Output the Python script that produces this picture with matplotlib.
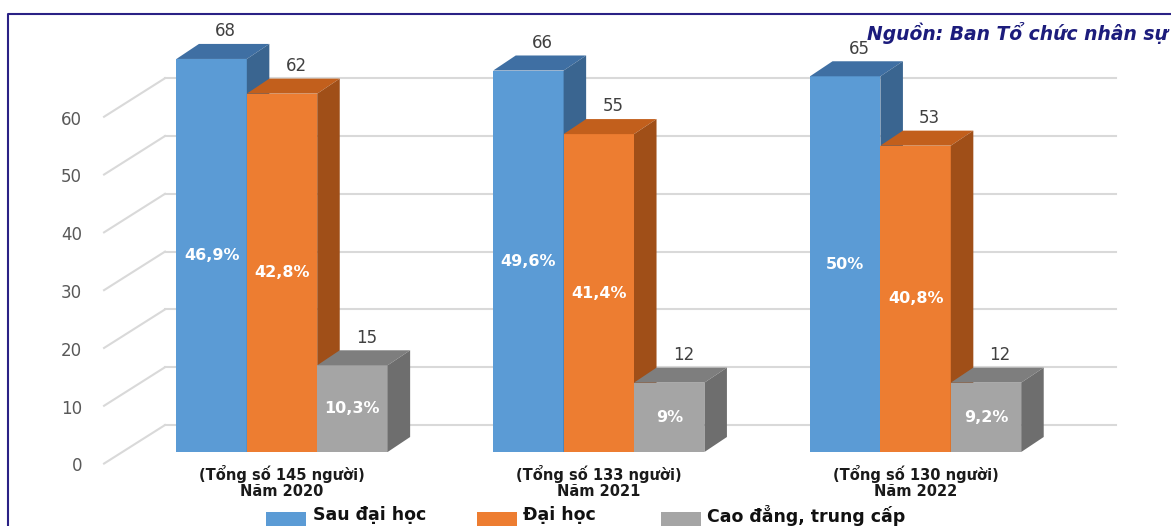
import matplotlib.pyplot as plt
from matplotlib.patches import Polygon, Rectangle
from matplotlib.lines import Line2D

# số lượng theo trình độ, mỗi năm
years = ['2020', '2021', '2022']
totals = [145, 133, 130]
sau_dai_hoc = [68, 66, 65]
dai_hoc = [62, 55, 53]
cao_dang = [15, 12, 12]
series_names = ['Sau đại học', 'Đại học', 'Cao đẳng, trung cấp']

# front / top / side colours for the fake 3d look
colors = [('#5b9bd5', '#3f6fa3', '#3a6590'),
          ('#ed7d31', '#c25f1c', '#a04f18'),
          ('#a5a5a5', '#7e7e7e', '#6e6e6e')]

W, H = 1171, 526
fig = plt.figure(figsize=(W / 100, H / 100), dpi=100)
ax = fig.add_axes([0, 0, 1, 1])
ax.set_xlim(-4.006, 12.628)
ax.set_ylim(-12.8, 78.2)
ax.axis('off')

dx, dy = 0.32, 2.6          # bar depth
wall_dy = 4.67              # back wall offset
gap = 4.5                   # distance between groups

# back wall gridlines + floor diagonals + tick labels
for v in range(0, 70, 10):
    ax.plot([-1.662, 11.85], [v + wall_dy] * 2, color='#d9d9d9', lw=1.5, zorder=1)
    ax.plot([-2.528, -1.662], [v - 2.0, v + wall_dy], color='#d9d9d9', lw=1.5, zorder=1)
    ax.text(-2.84, v - 2.5, str(v), ha='right', va='center', fontsize=12, color='#595959')


def pct(v, t):
    s = f'{v / t * 100:.1f}'
    if s.endswith('.0'):
        s = s[:-2]
    return s.replace('.', ',') + '%'


data = [sau_dai_hoc, dai_hoc, cao_dang]
for j, vals in enumerate(data):
    front, top, side = colors[j]
    xs = [i * gap + (j - 1) for i in range(len(years))]
    ax.bar(xs, vals, width=1, color=front, linewidth=0, zorder=2 + j)
    for x, v, t in zip(xs, vals, totals):
        x0, x1 = x - 0.5, x + 0.5
        ax.add_patch(Polygon([(x0, v), (x1, v), (x1 + dx, v + dy), (x0 + dx, v + dy)],
                             closed=True, facecolor=top, linewidth=0, zorder=2 + j))
        ax.add_patch(Polygon([(x1, 0), (x1 + dx, dy), (x1 + dx, v + dy), (x1, v)],
                             closed=True, facecolor=side, linewidth=0, zorder=2 + j))
        ax.text(x + 0.2, v + dy + 2.2, str(v), ha='center', va='center',
                fontsize=12, color='#404040', zorder=10)
        ax.text(x, v / 2, pct(v, t), ha='center', va='center', fontsize=11.5,
                fontweight='bold', color='white', zorder=10)

for i, (yr, t) in enumerate(zip(years, totals)):
    ax.text(i * gap, -3.8, f'(Tổng số {t} người)', ha='center', va='center',
            fontsize=10.5, fontweight='bold', color='#1a1a1a')
    ax.text(i * gap, -6.75, f'Năm {yr}', ha='center', va='center',
            fontsize=10.5, fontweight='bold', color='#1a1a1a')

# legend along the bottom edge
leg_pos = [(266, 313), (477, 523), (661, 707)]
for (bx, tx), name, c in zip(leg_pos, series_names, colors):
    fig.add_artist(Rectangle((bx / W, 1 - 526 / H), 40 / W, 14 / H,
                             transform=fig.transFigure, facecolor=c[0], linewidth=0))
    fig.text(tx / W, 1 - 515 / H, name, ha='left', va='center', fontsize=12.5,
             fontweight='bold', color='#111111')

fig.text(867 / W, 1 - 33 / H, 'Nguồn: Ban Tổ chức nhân sự', ha='left', va='center',
         fontsize=13.5, fontweight='bold', style='italic', color='#1c1c7c')

# outer frame (left and top edges)
fig.add_artist(Line2D([8 / W, 8 / W, 1], [0, 1 - 14 / H, 1 - 14 / H],
                      transform=fig.transFigure, color='#2a2185', lw=1.5))

fig.savefig('out.png', dpi=100)
